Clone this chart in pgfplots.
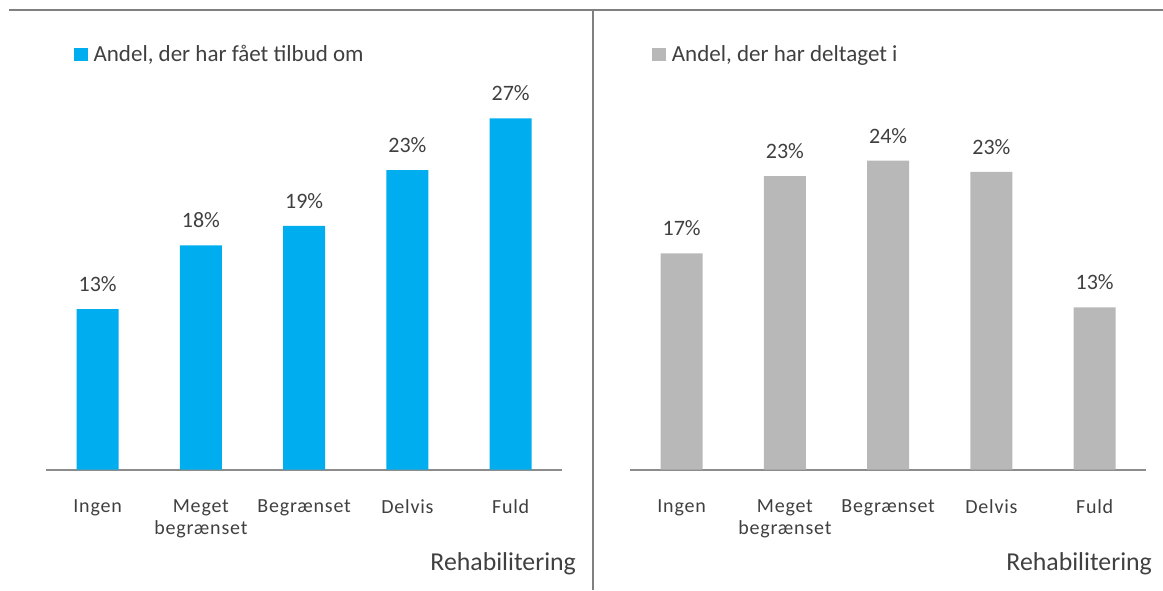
\documentclass[border=0pt]{standalone}
\usepackage{fontspec}
\setmainfont{Carlito}
\newfontfamily\tickfont[LetterSpace=4]{Carlito}
\usepackage{pgfplots}
\usepackage{pgfplotstable}
\pgfplotsset{compat=1.18}
\definecolor{cblue}{HTML}{00AEEF}
\definecolor{cgray}{HTML}{B8B8B8}
\definecolor{ctext}{HTML}{404040}
\definecolor{cline}{HTML}{808080}
\definecolor{caxis}{HTML}{8C8C8C}

\pgfplotstableread{
x y label
0 12.55 13
1 17.55 18
2 19.07 19
3 23.45 23
4 27.50 27
}\tilbud
\pgfplotstableread{
x y label
0 16.93 17
1 22.98 23
2 24.18 24
3 23.30 23
4 12.70 13
}\deltaget

\pgfplotsset{panel/.style={
  scale only axis, width=258.15pt, height=191.55pt,
  xmin=-0.5, xmax=4.5, ymin=0, ymax=30,
  axis x line*=bottom, axis y line=none,
  x axis line style={caxis, line width=1pt, -},
  xtick={0,1,2,3,4},
  xticklabels={Ingen,{Meget\\begrænset},Begrænset,Delvis,Fuld},
  major tick length=0pt,
  xticklabel style={anchor=north, inner sep=0pt, yshift=-15pt, align=center,
    font=\tickfont\fontsize{10}{10.75}\selectfont, text=ctext},
  ybar, bar width=21pt,
  point meta=explicit symbolic,
  nodes near coords={\pgfplotspointmeta\%},
  nodes near coords style={anchor=base, inner sep=0pt, yshift=8.8pt,
    font=\fontsize{11}{13}\selectfont, text=ctext},
  clip=false,
  xlabel={Rehabilitering},
  xlabel style={at={(axis description cs:1,0)}, anchor=base east, inner sep=0pt,
    yshift=-50.5pt, font=\fontsize{12.9}{15}\selectfont, text=ctext},
  legend style={draw=none, fill=none, inner sep=0pt, outer sep=0pt,
    nodes={inner sep=0pt}, column sep=3pt, anchor=west,
    font=\fontsize{11.5}{14}\selectfont, text=ctext, legend cell align=left},
  legend image code/.code={\fill[#1, draw=none] (0pt,-3.3pt) rectangle (6.8pt,3.5pt);},
}}

\begin{document}
\begin{tikzpicture}
\useasboundingbox (0,0) rectangle (581.5pt,295pt);
\draw[cline, line width=1pt] (4.5pt,290pt) -- (581.5pt,290pt);
\draw[cline, line width=1pt] (296.65pt,290pt) -- (296.65pt,0pt);

\begin{axis}[panel, at={(23pt,60.25pt)}, anchor=south west,
  xlabel style={xshift=7pt},
  legend style={at={(0.0542,1.083)}}]
\addplot[fill=cblue, draw=none] table[x=x, y=y, meta=label] {\tilbud};
\addlegendentry{Andel, der har fået tilbud om}
\end{axis}

\begin{axis}[panel, at={(315pt,60.25pt)}, anchor=south west,
  xlabel style={xshift=3pt},
  legend style={at={(0.0432,1.083)}}]
\addplot[fill=cgray, draw=none] table[x=x, y=y, meta=label] {\deltaget};
\addlegendentry{Andel, der har deltaget i}
\end{axis}
\end{tikzpicture}
\end{document}
